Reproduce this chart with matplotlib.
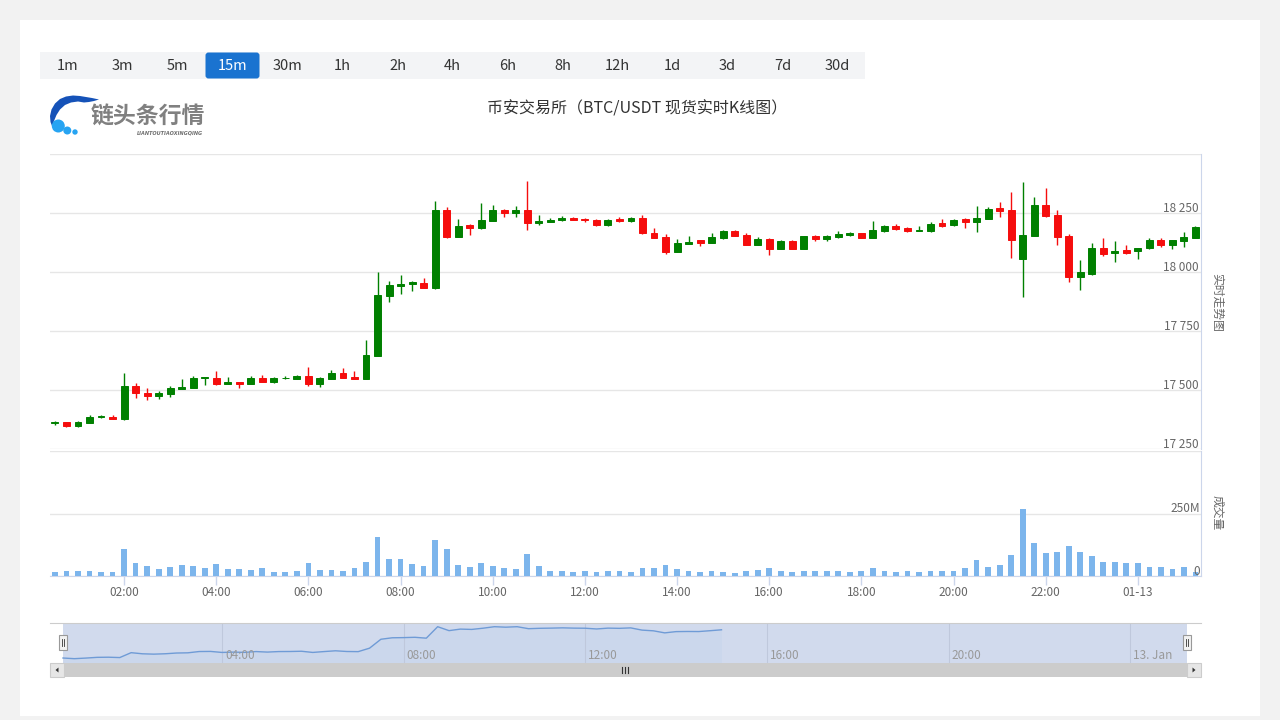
import numpy as np
import pandas as pd
import matplotlib
matplotlib.use('Agg')
import matplotlib.pyplot as plt
import matplotlib.dates as mdates
from matplotlib.patches import Rectangle, Polygon, Circle, FancyBboxPatch

plt.rcParams['font.family'] = ['Noto Sans CJK SC', 'DejaVu Sans']

# 15m candles, BTC/USDT, 2023-01-12 00:30 -> 2023-01-13 01:15
times = pd.date_range('2023-01-12 00:30', periods=100, freq='15min')

opens = [17362, 17363, 17346, 17362, 17384, 17387, 17377, 17516, 17487, 17476,
         17484, 17506, 17510, 17551, 17549, 17527, 17534, 17527, 17550, 17535,
         17549, 17548, 17558, 17527, 17547, 17572, 17555, 17548, 17645, 17900,
         17942, 17948, 17955, 17932, 18263, 18150, 18200, 18185, 18217, 18264,
         18249, 18263, 18208, 18213, 18220, 18230, 18225, 18220, 18198, 18223,
         18216, 18227, 18165, 18147, 18086, 18120, 18134, 18124, 18143, 18174,
         18158, 18116, 18140, 18099, 18131, 18099, 18151, 18140, 18150, 18158,
         18165, 18146, 18174, 18193, 18187, 18174, 18173, 18206, 18198, 18223,
         18213, 18226, 18272, 18263, 18056, 18154, 18283, 18242, 18153, 17980,
         17990, 18102, 18079, 18094, 18087, 18100, 18135, 18114, 18131, 18146]
highs = [17370, 17365, 17368, 17394, 17394, 17393, 17572, 17530, 17509, 17495,
         17517, 17547, 17558, 17555, 17580, 17555, 17536, 17558, 17564, 17555,
         17558, 17565, 17596, 17555, 17585, 17593, 17582, 17712, 17999, 17961,
         17986, 17963, 17975, 18300, 18274, 18225, 18202, 18291, 18283, 18266,
         18281, 18386, 18242, 18230, 18236, 18233, 18229, 18225, 18225, 18233,
         18233, 18240, 18186, 18161, 18141, 18151, 18136, 18165, 18178, 18180,
         18165, 18148, 18142, 18136, 18135, 18154, 18157, 18155, 18174, 18170,
         18167, 18216, 18199, 18202, 18191, 18196, 18212, 18225, 18225, 18230,
         18280, 18275, 18297, 18340, 18383, 18318, 18356, 18263, 18162, 18051,
         18122, 18144, 18131, 18116, 18102, 18142, 18144, 18137, 18168, 18195]
lows = [17353, 17344, 17344, 17359, 17380, 17377, 17375, 17467, 17459, 17463,
        17470, 17503, 17508, 17523, 17522, 17525, 17508, 17525, 17533, 17531,
        17548, 17547, 17518, 17514, 17545, 17550, 17547, 17546, 17643, 17874,
        17908, 17918, 17932, 17930, 18143, 18148, 18158, 18183, 18215, 18232,
        18232, 18179, 18198, 18210, 18214, 18220, 18212, 18196, 18196, 18210,
        18213, 18163, 18143, 18077, 18084, 18118, 18111, 18122, 18141, 18152,
        18114, 18114, 18072, 18097, 18097, 18097, 18133, 18133, 18146, 18153,
        18144, 18144, 18170, 18176, 18170, 18173, 18171, 18192, 18196, 18188,
        18171, 18224, 18233, 18059, 17895, 18152, 18233, 18114, 17959, 17925,
        17988, 18067, 18044, 18078, 18056, 18097, 18106, 18097, 18107, 18144]
closes = [17365, 17346, 17363, 17384, 17388, 17378, 17518, 17486, 17476, 17487,
          17508, 17514, 17551, 17554, 17525, 17534, 17527, 17550, 17535, 17550,
          17552, 17559, 17525, 17550, 17572, 17552, 17548, 17647, 17903, 17945,
          17950, 17959, 17934, 18263, 18150, 18194, 18185, 18220, 18263, 18249,
          18263, 18206, 18217, 18222, 18230, 18222, 18219, 18198, 18222, 18216,
          18229, 18165, 18145, 18086, 18122, 18126, 18124, 18148, 18174, 18154,
          18116, 18140, 18099, 18131, 18099, 18151, 18140, 18151, 18161, 18165,
          18146, 18178, 18195, 18183, 18173, 18177, 18202, 18195, 18220, 18213,
          18229, 18266, 18258, 18137, 18157, 18283, 18237, 18150, 17980, 18000,
          18102, 18078, 18090, 18080, 18100, 18135, 18114, 18135, 18148, 18189]
# volume in millions USDT
volume_m = [16, 19, 19, 20, 15, 16, 108, 51, 40, 28,
            36, 44, 40, 33, 47, 28, 27, 25, 32, 16,
            17, 19, 51, 24, 24, 21, 31, 55, 158, 69,
            69, 48, 40, 144, 110, 44, 37, 51, 41, 32,
            28, 89, 40, 20, 20, 16, 20, 16, 19, 20,
            16, 33, 32, 44, 28, 21, 16, 21, 16, 13,
            21, 24, 33, 21, 15, 19, 21, 20, 21, 16,
            21, 32, 19, 16, 19, 16, 19, 21, 21, 32,
            64, 37, 43, 85, 270, 133, 93, 98, 122, 98,
            80, 56, 57, 51, 51, 35, 35, 28, 35, 16]
nav_count = 59  # navigator series only reaches ~15:00

buttons = ['1m', '3m', '5m', '15m', '30m', '1h', '2h', '4h', '6h', '8h',
           '12h', '1d', '3d', '7d', '30d']
selected = '15m'
price_ticks = [17250, 17500, 17750, 18000, 18250, 18500]
vol_ticks = [0, 250, 500]
vol_labels = ['0', '250M', '']
main_ticks = pd.date_range('2023-01-12 02:00', '2023-01-13 00:00', freq='2h')
nav_ticks = pd.date_range('2023-01-12 04:00', periods=6, freq='4h')
nav_labels = ['04:00', '08:00', '12:00', '16:00', '20:00', '13. Jan']
title = '币安交易所（BTC/USDT 现货实时K线图）'

W, H = 1280, 720
fig = plt.figure(figsize=(12.8, 7.2), dpi=100)
fig.patch.set_facecolor('#f2f2f2')


def box(l, t, r, b):
    return [l / W, 1 - b / H, (r - l) / W, (b - t) / H]


bg = fig.add_axes([0, 0, 1, 1], zorder=0)
bg.set_xlim(0, W); bg.set_ylim(H, 0); bg.axis('off')
bg.add_patch(Rectangle((20, 20), 1240, 696, fc='white', ec='none'))

x = mdates.date2num(times)
step = x[1] - x[0]
o = np.array(opens); c = np.array(closes)
hi = np.array(highs); lo = np.array(lows)
cols = np.where(c >= o, '#008000', '#f50d0d')
xlim = (x[0] - 0.43 * step, x[-1] + 0.48 * step)
axis_col = '#ccd6eb'
lab_col = '#666666'

# price pane
ax = fig.add_axes(box(50, 154, 1201, 449), zorder=2)
ax.set_facecolor('none')
ax.vlines(x, lo, hi, colors=cols, lw=1.0, zorder=3)
ax.bar(x, np.maximum(np.abs(c - o), 2), bottom=np.minimum(o, c), width=step * 0.6,
       color=cols, edgecolor=cols, lw=0.7, zorder=4)
ax.set_xlim(xlim)
ax.set_ylim(price_ticks[0], price_ticks[-1])
ax.set_yticks(price_ticks)
ax.grid(axis='y', color='#e6e6e6', lw=1)
ax.set_axisbelow(True)
ax.tick_params(left=False, right=False, bottom=False, labelleft=False, labelbottom=False)
for s in ax.spines.values():
    s.set_visible(False)
ax.spines['right'].set_visible(True)
ax.spines['right'].set_color(axis_col)
for v in price_ticks[:-1]:
    ax.annotate(f'{v:,}'.replace(',', ' '), xy=(1, v), xycoords=('axes fraction', 'data'),
                xytext=(-2, -2), textcoords='offset pixels', ha='right', va='bottom',
                fontsize=8.5, color=lab_col)

# volume pane
axv = fig.add_axes(box(50, 451, 1201, 576), zorder=2)
axv.set_facecolor('none')
axv.bar(x, volume_m, width=step * 0.5, color='#7cb5ec', zorder=3)
axv.set_xlim(xlim)
axv.set_ylim(vol_ticks[0], vol_ticks[-1])
axv.set_yticks(vol_ticks)
axv.grid(axis='y', color='#e6e6e6', lw=1)
axv.set_axisbelow(True)
for s in axv.spines.values():
    s.set_visible(False)
axv.spines['right'].set_visible(True)
axv.spines['right'].set_color(axis_col)
axv.spines['bottom'].set_visible(True)
axv.spines['bottom'].set_color(axis_col)
axv.tick_params(axis='y', left=False, right=False, labelleft=False)
axv.set_xticks(mdates.date2num(main_ticks))
axv.set_xticklabels([t.strftime('%H:%M') if t.hour else t.strftime('%m-%d') for t in main_ticks])
axv.tick_params(axis='x', length=6.5, width=1, color=axis_col, labelsize=8.5,
                labelcolor=lab_col, pad=0.5)
for v, lab in zip(vol_ticks, vol_labels):
    axv.annotate(lab, xy=(1, v), xycoords=('axes fraction', 'data'),
                 xytext=(-1, -2), textcoords='offset pixels', ha='right', va='bottom',
                 fontsize=8.5, color=lab_col)

fig.text(1217 / W, 1 - 302 / H, '实时走势图', rotation=-90, ha='center', va='center',
         fontsize=8.5, color=lab_col)
fig.text(1217 / W, 1 - 513 / H, '成交量', rotation=-90, ha='center', va='center',
         fontsize=8.5, color=lab_col)

# navigator
span = x[-1] - x[0]
axn = fig.add_axes(box(50, 623, 1201, 663), zorder=2)
axn.set_facecolor('none')
axn.set_xlim(x[0] - 13 / 1124 * span, x[-1] + 14 / 1124 * span)
axn.set_ylim(17222, 18369)
axn.axvspan(x[0], x[-1], color='#d1daed', lw=0, zorder=1)
axn.fill_between(x[:nav_count], closes[:nav_count], 17222, color='#7cb5ec', alpha=0.07, lw=0, zorder=2)
axn.plot(x[:nav_count], closes[:nav_count], color='#6f9bd6', lw=1, zorder=3)
for t, lab in zip(mdates.date2num(nav_ticks), nav_labels):
    axn.axvline(t, color='#bfc8dc', lw=0.8, zorder=2)
    axn.annotate(lab, xy=(t, 0), xycoords=('data', 'axes fraction'), xytext=(3, 1),
                 textcoords='offset pixels', ha='left', va='bottom', fontsize=8.5, color='#999999')
axn.set_xticks([]); axn.set_yticks([])
for s in axn.spines.values():
    s.set_visible(False)
axn.spines['top'].set_visible(True)
axn.spines['top'].set_color('#cccccc')

# overlay: buttons, logo, title, scrollbar, handles
ov = fig.add_axes([0, 0, 1, 1], zorder=5)
ov.set_xlim(0, W); ov.set_ylim(H, 0); ov.axis('off')
ov.patch.set_alpha(0)

ov.add_patch(Rectangle((40, 52), 55 * len(buttons), 27, fc='#f3f4f6', ec='none'))
for k, b in enumerate(buttons):
    cx = 40 + 55 * k + 27.5
    if b == selected:
        ov.add_patch(FancyBboxPatch((40 + 55 * k + 0.5, 52.5), 54, 26,
                                    boxstyle='round,pad=0,rounding_size=3',
                                    fc='#1a73d0', ec='none'))
    ov.text(cx, 66, b, ha='center', va='center', fontsize=10.5,
            color='white' if b == selected else '#333333')

# logo
swoosh = [(99, 99.5), (92, 98), (86, 97), (80, 96), (73, 95.5), (66, 96.5), (60, 99),
          (55, 103.5), (51.5, 109.5), (50, 116), (50.5, 122), (52, 126), (54, 121),
          (56.5, 115), (60, 109.5), (65, 105), (71, 102.5), (78, 101.5), (84, 102.5),
          (89, 102), (94, 101)]
ov.add_patch(Polygon(swoosh, closed=True, fc='#1552b8', ec='none'))
for (cx, cy, r) in [(58.3, 126, 6.5), (67.3, 130.5, 4), (75, 132, 2.7)]:
    ov.add_patch(Circle((cx, cy), r, fc='#27a4f2', ec='none'))
ov.text(91, 117, '链头条行情', ha='left', va='center', fontsize=16.5,
        fontweight='bold', color='#808080')
ov.text(203, 133, 'LIANTOUTIAOXINGQING', ha='right', va='center', fontsize=3.6,
        fontweight='bold', style='italic', color='#707070', family='DejaVu Sans')

ov.text(637, 109, title, ha='center', va='center', fontsize=11.5, color='#333333')

# scrollbar
ov.add_patch(Rectangle((50, 663), 1151, 14, fc='#f2f2f2', ec='none'))
ov.add_patch(Rectangle((63, 663), 1124, 14, fc='#cccccc', ec='none'))
for bx in (50, 1187):
    ov.add_patch(Rectangle((bx, 663), 14, 14, fc='#e6e6e6', ec='#cccccc', lw=0.8))
ov.add_patch(Polygon([(58.5, 667.5), (58.5, 672.5), (55.5, 670)], fc='#333333', ec='none'))
ov.add_patch(Polygon([(1192.5, 667.5), (1192.5, 672.5), (1195.5, 670)], fc='#333333', ec='none'))
for gx in (622, 625, 628):
    ov.plot([gx, gx], [667, 673], color='#333333', lw=0.8)

# navigator handles
for hx in (63, 1187):
    ov.add_patch(Rectangle((hx - 4, 635), 8, 15, fc='#f2f2f2', ec='#999999', lw=0.8))
    for lx in (hx - 1.3, hx + 1.3):
        ov.plot([lx, lx], [639, 646], color='#333333', lw=0.6)

plt.savefig('out.png', dpi=100, facecolor=fig.get_facecolor())
